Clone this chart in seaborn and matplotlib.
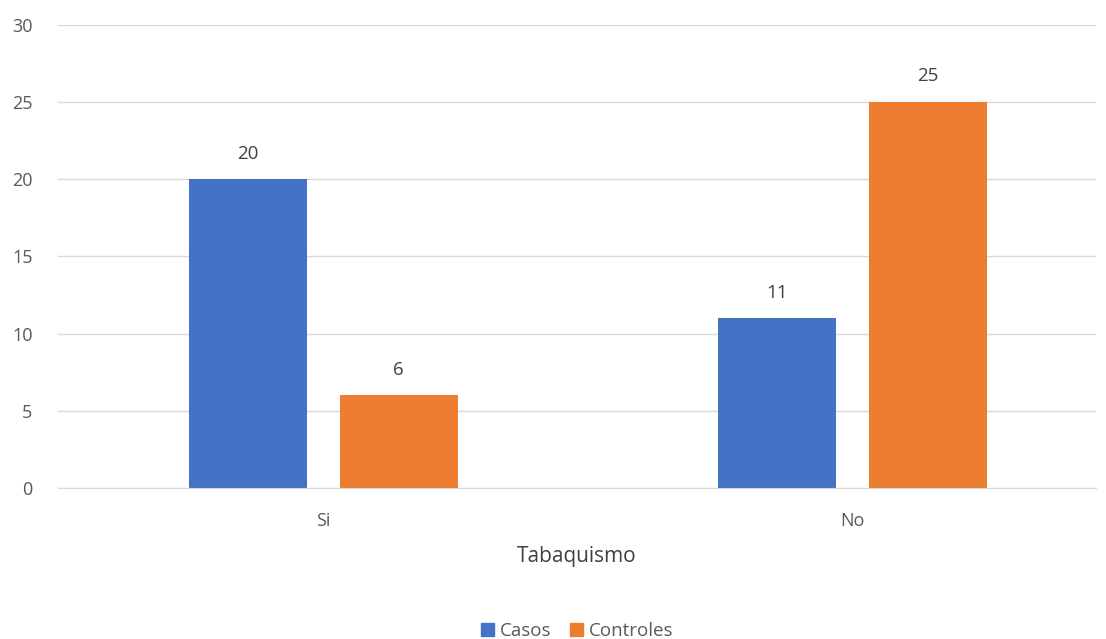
import pandas as pd
import matplotlib.pyplot as plt
import seaborn as sns

categorias = ['Si', 'No']
casos = [20, 11]
controles = [6, 25]
series = ['Casos', 'Controles']
colores = ['#4472C4', '#ED7D31']

df = pd.DataFrame({
    'Tabaquismo': categorias * 2,
    'Grupo': ['Casos'] * 2 + ['Controles'] * 2,
    'Valor': casos + controles,
})

sns.set_style('white')
plt.rcParams['font.family'] = ['Open Sans', 'DejaVu Sans']
gris = '#595959'

fig = plt.figure(figsize=(11.06, 6.39), dpi=100)
ax = fig.add_axes([0.052, 0.2363, 0.939, 0.7246])

sns.barplot(data=df, x='Tabaquismo', y='Valor', hue='Grupo', hue_order=series,
            palette=colores, width=0.571, gap=0.219, ax=ax, legend=True,
            saturation=1, linewidth=0)

for cont in ax.containers:
    ax.bar_label(cont, padding=12, fontsize=13.5, color='#404040')

ax.set_xlim(-0.502, 1.460)
ax.set_ylim(0, 30)
ax.set_yticks(range(0, 31, 5))
ax.yaxis.grid(True, color='#D9D9D9', linewidth=1)
ax.set_axisbelow(True)
for s in ['top', 'right', 'left']:
    ax.spines[s].set_visible(False)
ax.spines['bottom'].set_color('#D9D9D9')
ax.tick_params(axis='y', length=0, labelsize=13, labelcolor=gris, pad=18)
ax.tick_params(axis='x', length=0, labelsize=13, labelcolor=gris, pad=17)
ax.set_ylabel('')
ax.set_xlabel('Tabaquismo', fontsize=15, color='#404040', labelpad=12)

ax.legend_.remove()
handles = [plt.Rectangle((0, 0), 1, 1, color=c) for c in colores]
fig.legend(handles, series, loc='lower center', bbox_to_anchor=(0.522, -0.028),
           ncol=2, frameon=False, fontsize=13.5, handlelength=0.7, handleheight=0.7,
           columnspacing=1.0, handletextpad=0.3, labelcolor=gris)

fig.savefig('out.png', dpi=100)
